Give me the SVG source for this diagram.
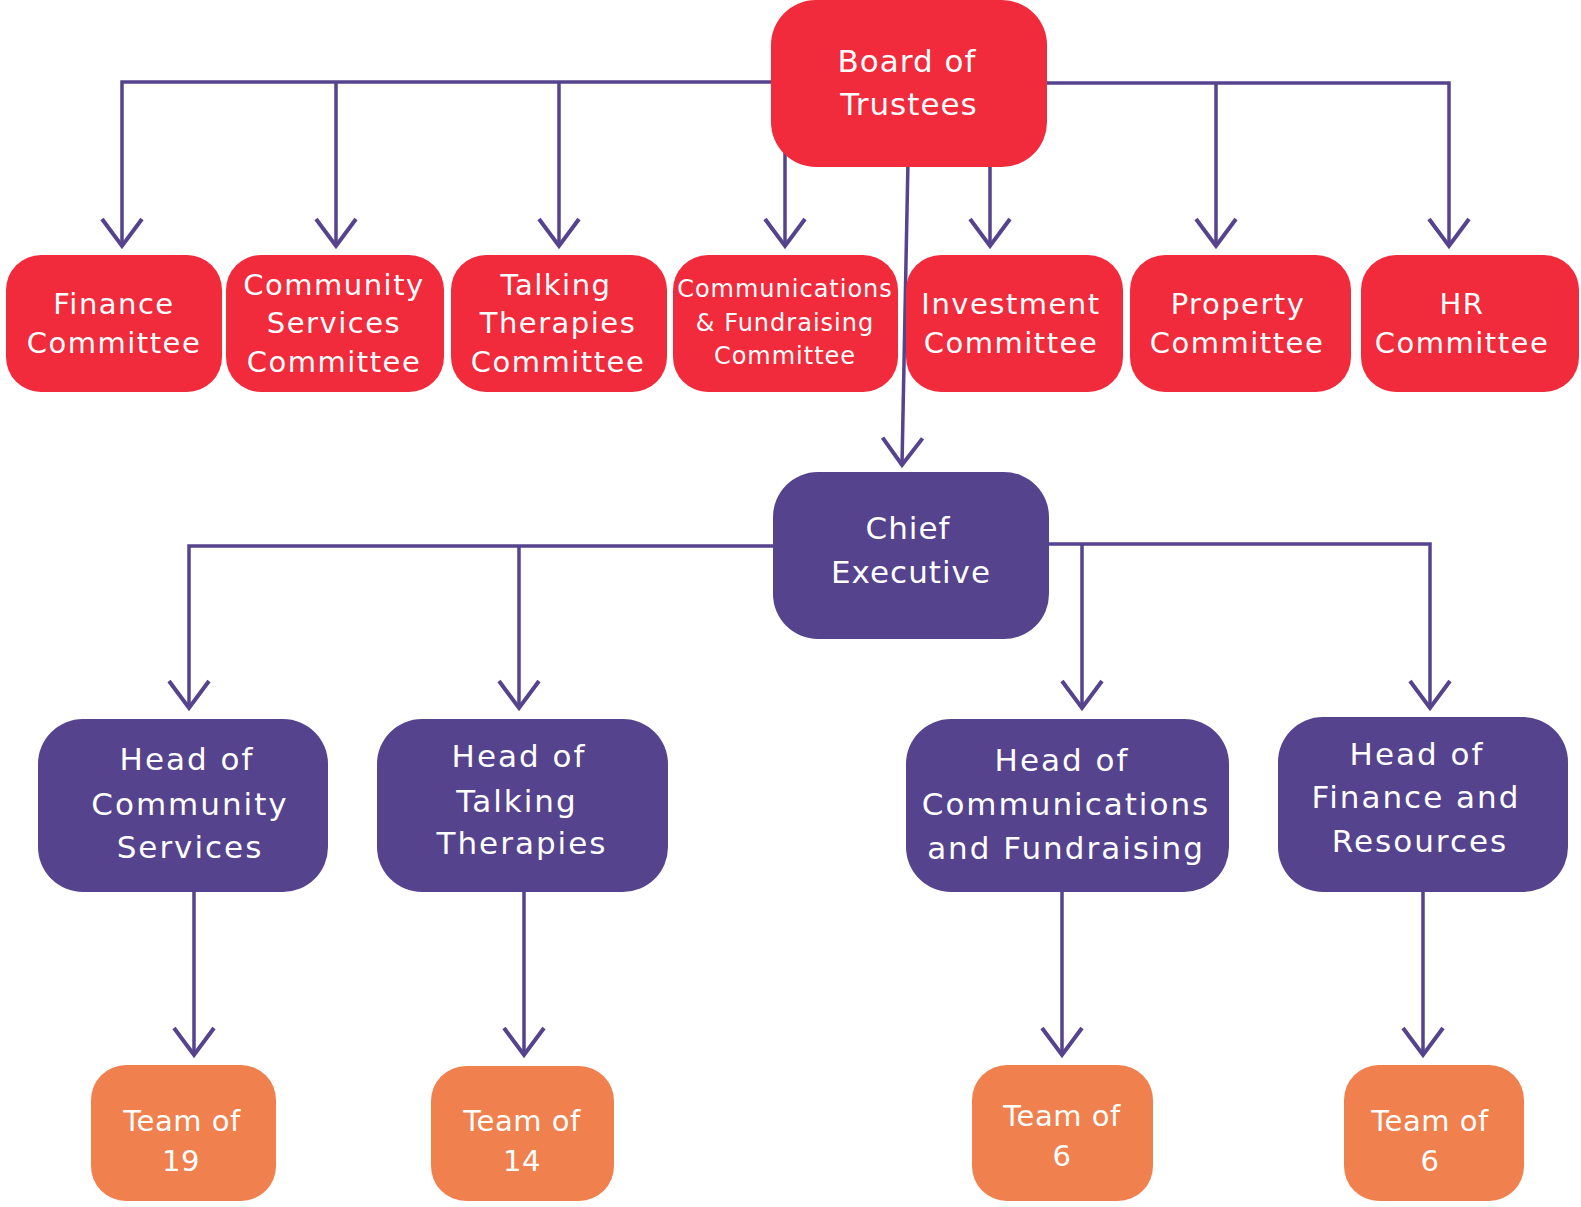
<svg xmlns="http://www.w3.org/2000/svg" width="1581" height="1207" viewBox="0 0 1581 1207">
<style>
.red{fill:#F12A3C}
.pur{fill:#55438E}
.org{fill:#F0804D}
.t{fill:#fff;font-family:"DejaVu Sans","Liberation Sans",sans-serif;text-anchor:middle}
.t31{font-size:31px;letter-spacing:1px}
.t29{font-size:29px;letter-spacing:1.5px}
.t24{font-size:24px;letter-spacing:1px}
.th{font-size:31px;letter-spacing:2px}
.tt{font-size:29px;letter-spacing:0.5px}
.c{fill:none;stroke:#55438E;stroke-width:3.5}
.a{fill:none;stroke:#55438E;stroke-width:4}
</style>
<defs>
<marker id="ah" markerUnits="userSpaceOnUse" markerWidth="60" markerHeight="60" viewBox="-30 -30 60 60" refX="0" refY="0" orient="auto" overflow="visible">
<path d="M-27,-20 L0,0 L-27,20" class="a"/>
</marker>
</defs>
<g id="connectors">
<path class="c" d="M771,82 H122 V246" marker-end="url(#ah)"/>
<path class="c" d="M336,82 V246" marker-end="url(#ah)"/>
<path class="c" d="M559,82 V246" marker-end="url(#ah)"/>
<path class="c" d="M785,150 V246" marker-end="url(#ah)"/>
<path class="c" d="M990,150 V246" marker-end="url(#ah)"/>
<path class="c" d="M1047,83 H1449 V246" marker-end="url(#ah)"/>
<path class="c" d="M1216,83 V246" marker-end="url(#ah)"/>
<path class="c" d="M908,160 L902,465" marker-end="url(#ah)"/>
<path class="c" d="M773,546 H189 V708" marker-end="url(#ah)"/>
<path class="c" d="M519,546 V708" marker-end="url(#ah)"/>
<path class="c" d="M1049,544 H1430 V708" marker-end="url(#ah)"/>
<path class="c" d="M1082,544 V708" marker-end="url(#ah)"/>
<path class="c" d="M194,892 V1055" marker-end="url(#ah)"/>
<path class="c" d="M524,892 V1055" marker-end="url(#ah)"/>
<path class="c" d="M1062,892 V1055" marker-end="url(#ah)"/>
<path class="c" d="M1423,892 V1055" marker-end="url(#ah)"/>
</g>
<g id="board">
<rect class="red" x="771" y="0" width="276" height="167" rx="45"/>
<text class="t t31" x="907" y="72">Board of</text>
<text class="t t31" x="909" y="115">Trustees</text>
</g>
<g id="finance-committee">
<rect class="red" x="6" y="255" width="216" height="137" rx="35"/>
<text class="t t29" x="114" y="314">Finance</text>
<text class="t t29" x="114" y="353">Committee</text>
</g>
<g id="community-services-committee">
<rect class="red" x="226" y="255" width="218" height="137" rx="35"/>
<text class="t t29" x="334" y="295">Community</text>
<text class="t t29" x="334" y="333">Services</text>
<text class="t t29" x="334" y="372">Committee</text>
</g>
<g id="talking-therapies-committee">
<rect class="red" x="451" y="255" width="216" height="137" rx="35"/>
<text class="t t29" x="556" y="295">Talking</text>
<text class="t t29" x="558" y="333">Therapies</text>
<text class="t t29" x="558" y="372">Committee</text>
</g>
<g id="communications-committee">
<rect class="red" x="673" y="255" width="225" height="137" rx="35"/>
<text class="t t24" x="785" y="297">Communications</text>
<text class="t t24" x="785" y="331">&amp; Fundraising</text>
<text class="t t24" x="785" y="364">Committee</text>
</g>
<g id="investment-committee">
<rect class="red" x="906" y="255" width="217" height="137" rx="35"/>
<text class="t t29" x="1011" y="314">Investment</text>
<text class="t t29" x="1011" y="353">Committee</text>
</g>
<g id="property-committee">
<rect class="red" x="1130" y="255" width="221" height="137" rx="35"/>
<text class="t t29" x="1238" y="314">Property</text>
<text class="t t29" x="1237" y="353">Committee</text>
</g>
<g id="hr-committee">
<rect class="red" x="1361" y="255" width="218" height="137" rx="35"/>
<text class="t t29" x="1462" y="314">HR</text>
<text class="t t29" x="1462" y="353">Committee</text>
</g>
<g id="chief-executive">
<rect class="pur" x="773" y="472" width="276" height="167" rx="45"/>
<text class="t t31" x="908" y="539">Chief</text>
<text class="t t31" x="911" y="583">Executive</text>
</g>
<g id="head-community">
<rect class="pur" x="38" y="719" width="290" height="173" rx="45"/>
<text class="t th" x="187" y="770">Head of</text>
<text class="t th" x="190" y="815">Community</text>
<text class="t th" x="190" y="858">Services</text>
</g>
<g id="head-talking">
<rect class="pur" x="377" y="719" width="291" height="173" rx="45"/>
<text class="t th" x="519" y="767">Head of</text>
<text class="t th" x="517" y="812">Talking</text>
<text class="t th" x="522" y="854">Therapies</text>
</g>
<g id="head-communications">
<rect class="pur" x="906" y="719" width="323" height="173" rx="45"/>
<text class="t th" x="1062" y="771">Head of</text>
<text class="t th" x="1066" y="815">Communications</text>
<text class="t th" x="1066" y="859">and Fundraising</text>
</g>
<g id="head-finance">
<rect class="pur" x="1278" y="717" width="290" height="175" rx="45"/>
<text class="t th" x="1417" y="765">Head of</text>
<text class="t th" x="1416" y="808">Finance and</text>
<text class="t th" x="1420" y="852">Resources</text>
</g>
<g id="team-19">
<rect class="org" x="91" y="1065" width="185" height="136" rx="35"/>
<text class="t tt" x="182" y="1131">Team of</text>
<text class="t tt" x="181" y="1171">19</text>
</g>
<g id="team-14">
<rect class="org" x="431" y="1066" width="183" height="135" rx="35"/>
<text class="t tt" x="522" y="1131">Team of</text>
<text class="t tt" x="522" y="1171">14</text>
</g>
<g id="team-6a">
<rect class="org" x="972" y="1065" width="181" height="136" rx="35"/>
<text class="t tt" x="1062" y="1126">Team of</text>
<text class="t tt" x="1062" y="1166">6</text>
</g>
<g id="team-6b">
<rect class="org" x="1344" y="1065" width="180" height="136" rx="35"/>
<text class="t tt" x="1430" y="1131">Team of</text>
<text class="t tt" x="1430" y="1171">6</text>
</g>
</svg>
